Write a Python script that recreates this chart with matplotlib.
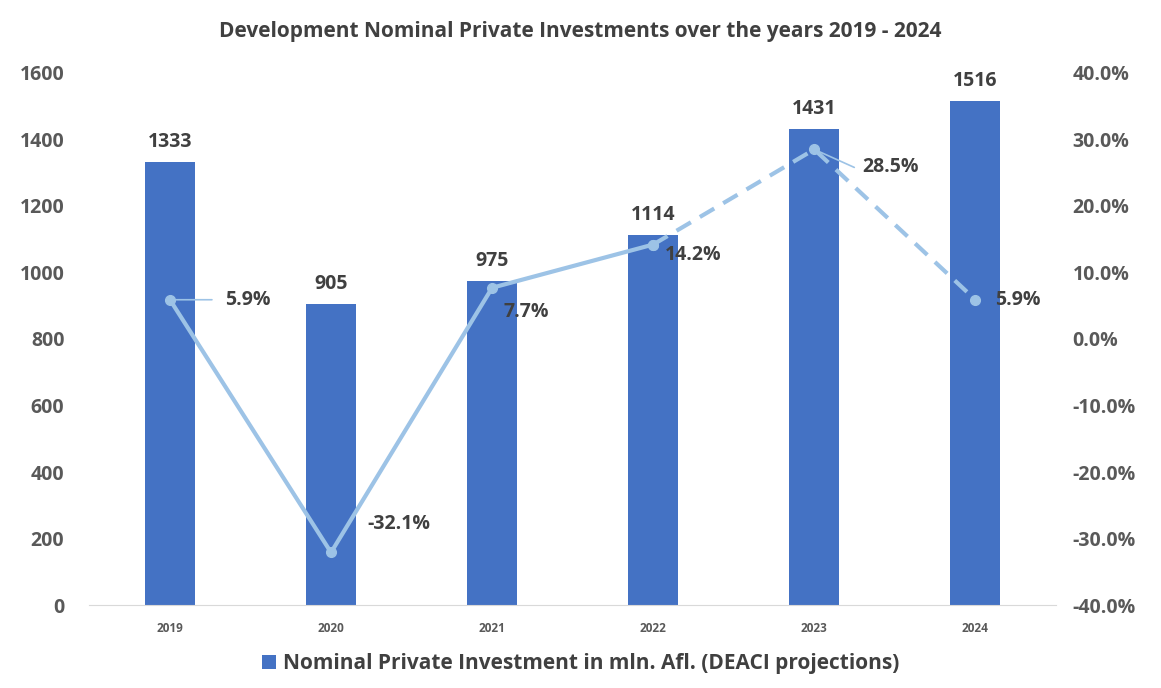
import numpy as np
import matplotlib.pyplot as plt
from matplotlib.ticker import FuncFormatter

years = ['2019', '2020', '2021', '2022', '2023', '2024']
investment = [1333, 905, 975, 1114, 1431, 1516]
growth = [5.9, -32.1, 7.7, 14.2, 28.5, 5.9]
growth_labels = ['5.9%', '-32.1%', '7.7%', '14.2%', '28.5%', '5.9%']

bar_color = '#4472C4'
line_color = '#9DC3E6'
text_color = '#404040'
tick_color = '#595959'

plt.rcParams['font.family'] = ['Open Sans', 'DejaVu Sans']

fig = plt.figure(figsize=(11.61, 6.88), dpi=100)
ax = fig.add_axes([0.077, 0.1206, 0.8325, 0.7734])
ax2 = ax.twinx()

x = np.arange(len(years))
bars = ax.bar(x, investment, 0.31, color=bar_color, zorder=2)
for xi, v in zip(x, investment):
    ax.annotate(str(v), (xi, v), xytext=(0, 10), textcoords='offset pixels',
                ha='center', va='bottom', fontsize=14, fontweight='bold', color=text_color)

ax.set_xlim(-0.5, len(years) - 0.5)
ax.set_ylim(0, 1600)
ax.set_yticks(range(0, 1601, 200))
ax.set_xticks(x)
ax.set_xticklabels(years, fontsize=8.5, fontweight='bold', color=tick_color)
ax.tick_params(axis='y', labelsize=14, labelcolor=tick_color, length=0, pad=18)
ax.tick_params(axis='x', length=0, pad=12)
for lab in ax.get_yticklabels():
    lab.set_fontweight('bold')

# growth line: solid up to 2022, dashed projections afterwards
ax2.plot(x[:4], growth[:4], color=line_color, lw=3, marker='o', ms=7, zorder=3)
ax2.plot(x[3:], growth[3:], color=line_color, lw=3, ls=(0, (4, 2.5)), marker='o', ms=7, zorder=3)
ax2.set_ylim(-40, 40)
ax2.set_yticks(range(-40, 41, 10))
ax2.yaxis.set_major_formatter(FuncFormatter(lambda v, p: '%.1f%%' % v))
ax2.tick_params(axis='y', labelsize=14, labelcolor=tick_color, length=0, pad=12)
for lab in ax2.get_yticklabels():
    lab.set_fontweight('bold')

offsets = [(78, 0), (68, 28), (34, -24), (40, -10), (76, -18), (42, 0)]
leaders = [True, False, False, False, True, False]
for xi, g, lab, off, lead in zip(x, growth, growth_labels, offsets, leaders):
    ax2.annotate(lab, (xi, g), xytext=off, textcoords='offset pixels',
                 ha='center', va='center', fontsize=14, fontweight='bold', color=text_color,
                 zorder=5)
    if lead:
        ax2.annotate('', (xi, g), xytext=(off[0] - 36, off[1]), textcoords='offset pixels',
                     arrowprops=dict(arrowstyle='-', color=line_color, lw=1.2,
                                     shrinkA=0, shrinkB=0))

for a in (ax, ax2):
    for s in ['top', 'left', 'right']:
        a.spines[s].set_visible(False)
ax.spines['bottom'].set_color('#D9D9D9')
ax2.spines['bottom'].set_visible(False)

fig.suptitle('Development Nominal Private Investments over the years 2019 - 2024',
             x=0.5, y=0.97, fontsize=15, fontweight='bold', color=text_color)

fig.legend([bars], ['Nominal Private Investment in mln. Afl. (DEACI projections)'],
           loc='center', bbox_to_anchor=(0.5, 0.035), frameon=False,
           prop={'size': 15, 'weight': 'bold'}, labelcolor=text_color,
           handlelength=0.7, handleheight=0.7, handletextpad=0.3)

plt.savefig('out.png', dpi=100)
